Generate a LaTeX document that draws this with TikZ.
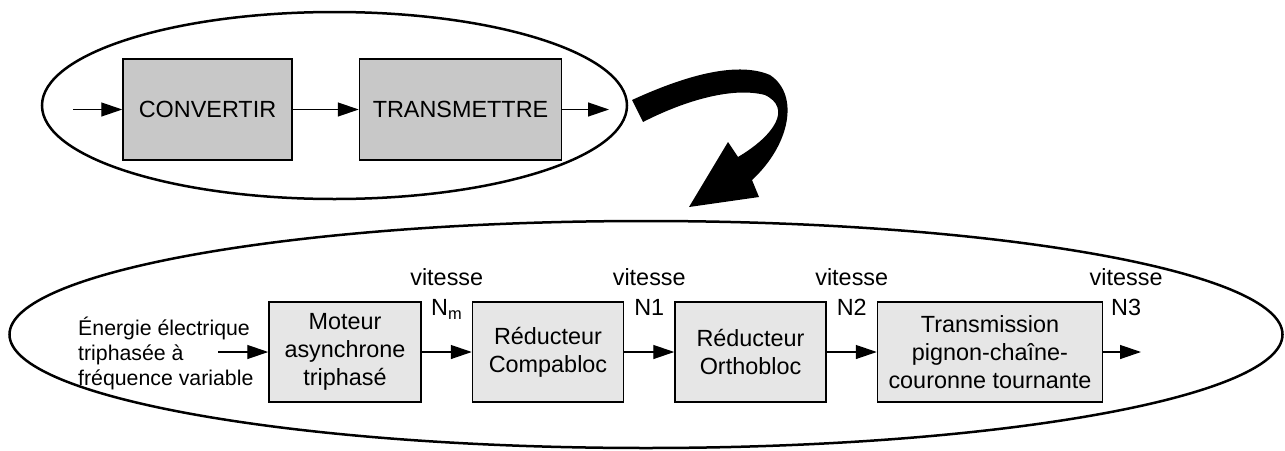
\documentclass[tikz,border=0pt]{standalone}
\usepackage{fontspec}
\setmainfont{Liberation Sans}
\usetikzlibrary{positioning,arrows.meta}
\definecolor{grisfonce}{RGB}{200,200,200}
\definecolor{grisclair}{RGB}{230,230,230}

\begin{document}
\begin{tikzpicture}[x=1pt,y=-1pt,font=\fontsize{23.4}{28}\selectfont]
\tikzset{BlocStyle/.style =
	{draw,
		line width = 1.5pt,
		align = center,
		minimum height = 100pt,
		inner sep = 0pt},
	FonctionStyle/.style = {BlocStyle, fill = grisfonce, minimum height = 101pt},
	ComposantStyle/.style = {BlocStyle, fill = grisclair},
	FlecheStyle/.style = {line width = 1.3pt, -{Triangle[length=21pt,width=14pt]}},
	VitesseStyle/.style = {align = center, inner sep = 0pt, text depth = 0pt,
		font = \fontsize{23.4}{30}\selectfont, above = 35.5pt}}
\useasboundingbox (0,0) rectangle (1285,450);
% niveau fonctionnel
\draw[line width=2.5pt] (334.5,105.5) ellipse [x radius=292.5pt, y radius=93.5pt];
\node[FonctionStyle, minimum width=169pt] (conv) at (207.5,109.5) {CONVERTIR};
\node[FonctionStyle, minimum width=202pt, right=66pt of conv] (trans) {TRANSMETTRE};
\coordinate (e1) at (73,109.5);
\coordinate (s1) at (609,109.5);
\draw[FlecheStyle] (e1) -- (conv);
\draw[FlecheStyle] (conv) -- (trans);
\draw[FlecheStyle] (trans) -- (s1);
% grosse fleche
\fill (632,100) .. controls (680,78) and (735,60) .. (770,75)
  .. controls (800,95) and (790,145) .. (752,180)
  -- (759,197) -- (689,207) -- (728,142) -- (738,157)
  .. controls (775,135) and (792,108) .. (765,95)
  .. controls (730,86) and (680,103) .. (643,122) -- cycle;
% niveau structurel
\draw[line width=2.5pt] (646,334.5) ellipse [x radius=636.5pt, y radius=113.5pt];
\node[ComposantStyle, minimum width=152pt] (moteur) at (345,352) {Moteur\\asynchrone\\triphasé};
\node[ComposantStyle, minimum width=151pt, right=50pt of moteur] (compa) {Réducteur\\Compabloc};
\node[ComposantStyle, minimum width=151pt, right=50pt of compa] (ortho) {Réducteur\\Orthobloc};
\node[ComposantStyle, minimum width=225pt, right=50pt of ortho] (transm) {Transmission\\pignon-chaîne-\\couronne tournante};
\node[anchor=west, align=left, inner sep=0pt, font=\fontsize{21.3}{25}\selectfont] (source)
  at (78,353) {Énergie électrique\\triphasée à\\fréquence variable};
\coordinate (e2) at (218,352);
\coordinate (s2) at (1141,352);
\draw[FlecheStyle] (e2) -- (moteur);
\draw[FlecheStyle] (moteur) -- node[VitesseStyle] {vitesse\\N\textsubscript{m}} (compa);
\draw[FlecheStyle] (compa) -- node[VitesseStyle] {vitesse\\N1} (ortho);
\draw[FlecheStyle] (ortho) -- node[VitesseStyle] {vitesse\\N2} (transm);
\draw[FlecheStyle] (transm) -- node[VitesseStyle, xshift=4pt] {vitesse\\N3} (s2);
%\draw[help lines] (0,0) grid[step=50] (1285,450);
\end{tikzpicture}
\end{document}
